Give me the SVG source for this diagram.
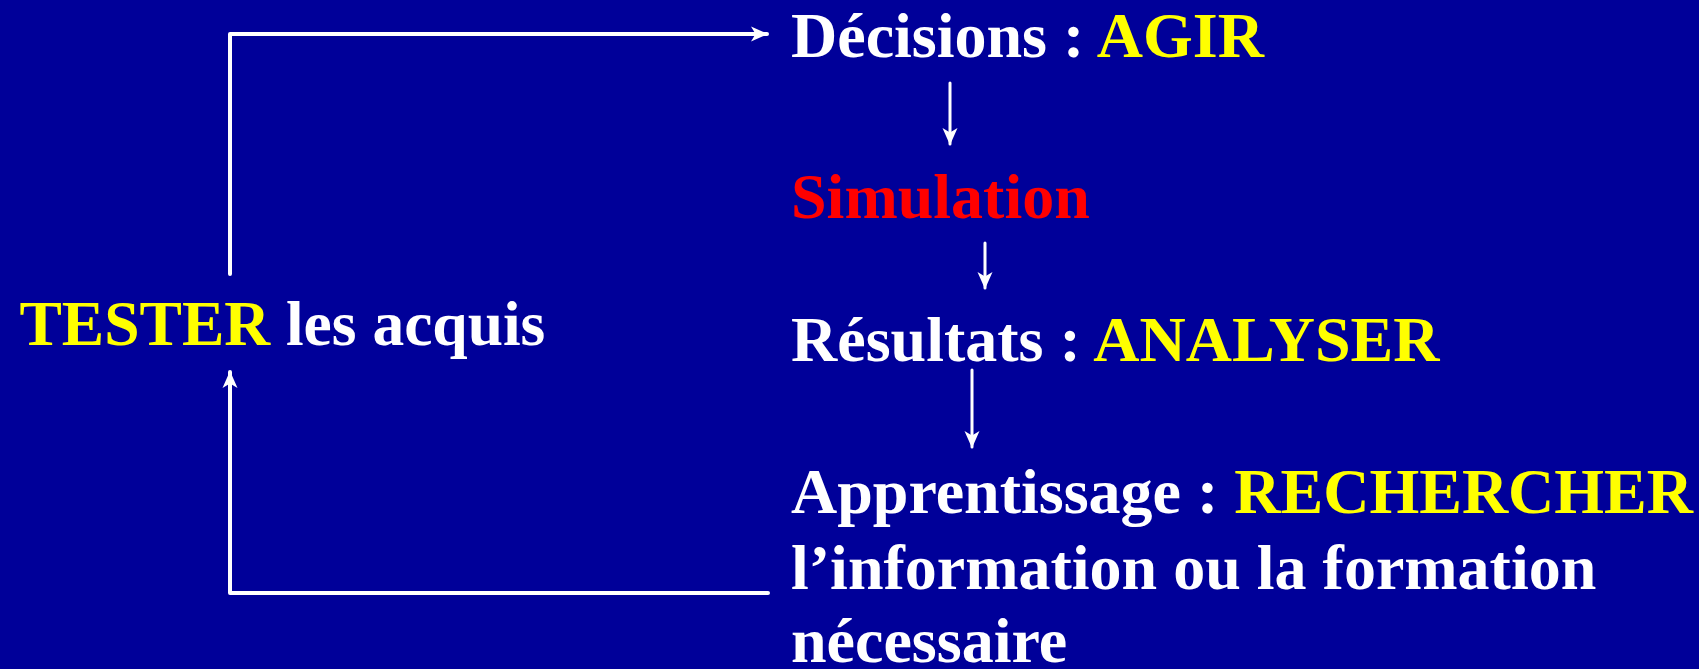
<svg xmlns="http://www.w3.org/2000/svg" width="1699" height="669" viewBox="0 0 1699 669">
<style>
text{font-family:"Liberation Serif","Times New Roman",serif;font-weight:bold;font-size:64px;fill:#fff}
.t{font-size:63.5px}
.y{fill:#ffff00}
.r{fill:#ff0000}
.c{fill:none;stroke:#fff;stroke-linecap:round;stroke-linejoin:round}
.big{stroke-width:4}
.sm{stroke-width:3}
</style>
<defs>
<marker id="ah" markerUnits="userSpaceOnUse" markerWidth="18" markerHeight="18" viewBox="0 0 18 18" refX="16" refY="9" orient="auto">
<path d="M0,1.5 L17,9 L0,16.5 L4.5,9 Z" fill="#fff"/>
</marker>
</defs>
<rect width="1699" height="669" fill="#000099"/>
<g id="connectors">
<polyline class="c big" points="230,274 230,34 767,34" marker-end="url(#ah)"/>
<polyline class="c big" points="768,593 230,593 230,372" marker-end="url(#ah)"/>
<line class="c sm" x1="950" y1="83" x2="950" y2="144" marker-end="url(#ah)"/>
<line class="c sm" x1="985" y1="243" x2="985" y2="288" marker-end="url(#ah)"/>
<line class="c sm" x1="972" y1="370" x2="972" y2="447" marker-end="url(#ah)"/>
</g>
<g id="tester"><text class="t" x="19.5" y="345"><tspan class="y">TESTER</tspan> les acquis</text></g>
<g id="decisions"><text x="791" y="57">Décisions : <tspan class="y">AGIR</tspan></text></g>
<g id="simulation"><text x="791" y="218" class="r">Simulation</text></g>
<g id="resultats"><text x="791" y="361">Résultats : <tspan class="y">ANALYSER</tspan></text></g>
<g id="apprentissage">
<text x="791" y="513">Apprentissage : <tspan class="y">RECHERCHER</tspan></text>
<text x="791" y="589">l’information ou la formation</text>
<text x="791" y="662">nécessaire</text>
</g>
</svg>
